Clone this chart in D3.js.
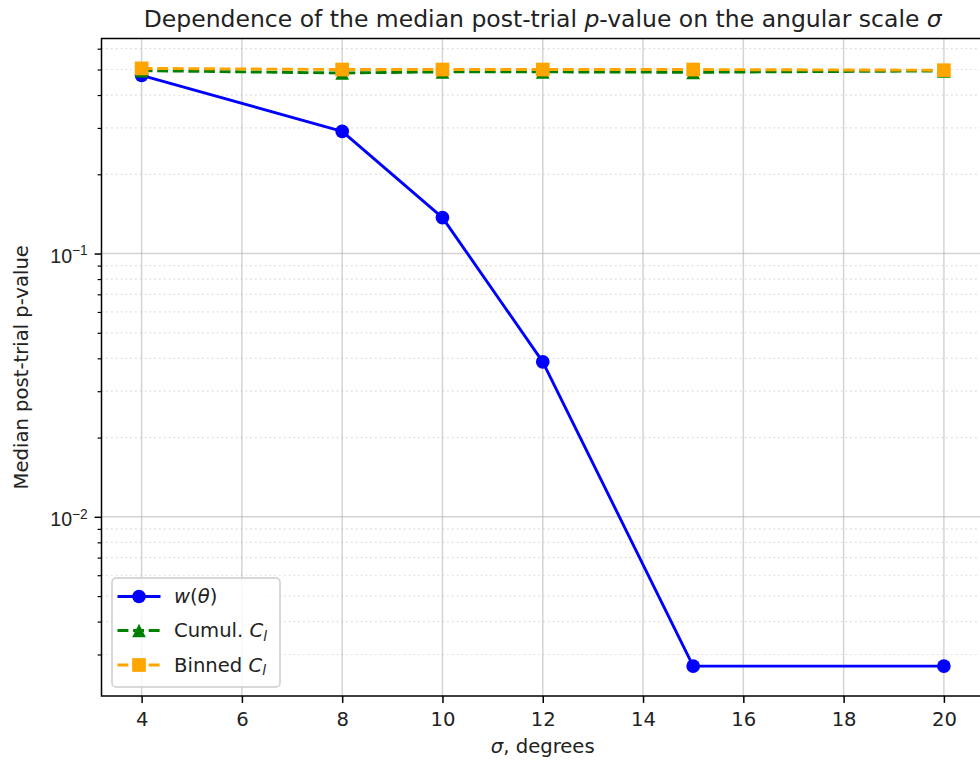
<!DOCTYPE html>
<html><head><meta charset="utf-8">
<script src="https://cdn.jsdelivr.net/npm/d3@7"></script>
<style>
body{margin:0;background:#fff}
svg{display:block;font-family:"DejaVu Sans",sans-serif}
</style>
</head><body><div id="chart"></div>
<script>
// ---- data ----
const sigma = [4, 8, 10, 12, 15, 20];
const wTheta = [0.475, 0.291, 0.137, 0.0388, 0.00271, 0.00271];
const cumulCl = [0.495, 0.485, 0.49, 0.49, 0.488, 0.494];
const binnedCl = [0.505, 0.50, 0.50, 0.50, 0.50, 0.497];
const xTicks = [4, 6, 8, 10, 12, 14, 16, 18, 20];
const yMajorTicks = [0.01, 0.1];
const yMajorLabels = [["10", "−2"], ["10", "−1"]];
const yMinorTicks = [3e-3,4e-3,5e-3,6e-3,7e-3,8e-3,9e-3,2e-2,3e-2,4e-2,5e-2,6e-2,7e-2,8e-2,9e-2,0.2,0.3,0.4,0.5,0.6,0.7,0.8,0.9];

const W = 980, H = 764;
const L = 101.5, R = 984, T = 38.5, B = 696;
const fs = 19.6;

const svg = d3.select("#chart").append("svg").attr("width", W).attr("height", H);

// scales with matplotlib-like 5% margins
const xmin = d3.min(sigma), xmax = d3.max(sigma);
const xpad = (xmax - xmin) * 0.05;
const x = d3.scaleLinear().domain([xmin - xpad, xmax + xpad]).range([L, R]);
const all = wTheta.concat(cumulCl, binnedCl);
const lmin = Math.log10(d3.min(all)), lmax = Math.log10(d3.max(all));
const lpad = (lmax - lmin) * 0.05;
const y = d3.scaleLog().domain([Math.pow(10, lmin - lpad), Math.pow(10, lmax + lpad)]).range([B, T]);

const yMinorVisible = yMinorTicks.filter(v => v >= y.domain()[0] && v <= y.domain()[1]);

// clip
svg.append("defs").append("clipPath").attr("id", "clip")
  .append("rect").attr("x", L).attr("y", T).attr("width", R - L).attr("height", B - T);

// grid
const grid = svg.append("g");
grid.selectAll(".gm").data(yMinorVisible).enter().append("line")
  .attr("x1", L).attr("x2", R).attr("y1", d => y(d)).attr("y2", d => y(d))
  .attr("stroke", "#b0b0b0").attr("stroke-opacity", 0.45).attr("stroke-width", 1.2)
  .attr("stroke-dasharray", "1.6,3.2");
grid.selectAll(".gy").data(yMajorTicks).enter().append("line")
  .attr("x1", L).attr("x2", R).attr("y1", d => y(d)).attr("y2", d => y(d))
  .attr("stroke", "#b0b0b0").attr("stroke-opacity", 0.55).attr("stroke-width", 1.5);
grid.selectAll(".gx").data(xTicks).enter().append("line")
  .attr("x1", d => x(d)).attr("x2", d => x(d)).attr("y1", T).attr("y2", B)
  .attr("stroke", "#b0b0b0").attr("stroke-opacity", 0.55).attr("stroke-width", 1.5);

// series
const plot = svg.append("g").attr("clip-path", "url(#clip)");
const series = [
  {name: "w", vals: wTheta, color: "#0000ff", dash: null, marker: "circle"},
  {name: "cumul", vals: cumulCl, color: "#008000", dash: "10.9,4.7", marker: "triangle"},
  {name: "binned", vals: binnedCl, color: "#ffa500", dash: "10.9,4.7", marker: "square"}
];
const line = d3.line().x(d => x(d[0])).y(d => y(d[1]));
const msz = 13.7;
function drawMarker(g, type, cx, cy, color) {
  if (type === "circle") {
    g.append("circle").attr("cx", cx).attr("cy", cy).attr("r", msz / 2).attr("fill", color);
  } else if (type === "square") {
    g.append("rect").attr("x", cx - msz / 2).attr("y", cy - msz / 2).attr("width", msz).attr("height", msz).attr("fill", color);
  } else {
    const h = msz / 2;
    g.append("path").attr("d", `M${cx},${cy - h}L${cx - h},${cy + h}L${cx + h},${cy + h}Z`).attr("fill", color);
  }
}
series.forEach(s => {
  const pts = sigma.map((v, i) => [v, s.vals[i]]);
  const g = plot.append("g");
  g.append("path").attr("d", line(pts)).attr("fill", "none").attr("stroke", s.color)
    .attr("stroke-width", 2.9).attr("stroke-dasharray", s.dash).attr("stroke-linejoin", "round");
  pts.forEach(p => drawMarker(g, s.marker, x(p[0]), y(p[1]), s.color));
});

// axes
const xAxis = d3.axisBottom(x).tickValues(xTicks).tickSize(6.9).tickPadding(6.9).tickFormat(d3.format("d"));
const gx = svg.append("g").attr("transform", `translate(0,${B})`).call(xAxis);
gx.select(".domain").remove();
gx.selectAll(".tick line").attr("stroke", "#000").attr("stroke-width", 1.5);
gx.selectAll(".tick text").attr("font-size", fs).attr("font-family", "DejaVu Sans").attr("fill", "#222").attr("dy", null).attr("y", 30);

const yMinorAxis = d3.axisLeft(y).tickValues(yMinorVisible).tickSize(3.9).tickFormat("");
const gym = svg.append("g").attr("transform", `translate(${L},0)`).call(yMinorAxis);
gym.select(".domain").remove();
gym.selectAll(".tick line").attr("stroke", "#000").attr("stroke-width", 1.2);

const yAxis = d3.axisLeft(y).tickValues(yMajorTicks).tickSize(6.9).tickFormat("");
const gy = svg.append("g").attr("transform", `translate(${L},0)`).call(yAxis);
gy.select(".domain").remove();
gy.selectAll(".tick line").attr("stroke", "#000").attr("stroke-width", 1.5);
gy.selectAll(".tick").each(function(d, i) {
  const t = d3.select(this).append("text").attr("x", -13.8).attr("y", 8.7)
    .attr("text-anchor", "end").attr("font-size", fs).attr("fill", "#222");
  t.append("tspan").text(yMajorLabels[i][0]);
  t.append("tspan").attr("font-size", fs * 0.7).attr("dy", -7.5).text(yMajorLabels[i][1]);
});

// spines
svg.append("rect").attr("x", L).attr("y", T).attr("width", R - L).attr("height", B - T)
  .attr("fill", "none").attr("stroke", "#000").attr("stroke-width", 1.5);

// title
const title = svg.append("text").attr("x", (L + R) / 2).attr("y", 27).attr("text-anchor", "middle")
  .attr("font-size", 23.5).attr("fill", "#222");
title.append("tspan").text("Dependence of the median post-trial ");
title.append("tspan").attr("font-style", "italic").text("p");
title.append("tspan").text("-value on the angular scale ");
title.append("tspan").attr("font-style", "italic").text("σ");

// axis labels
const xl = svg.append("text").attr("x", (L + R) / 2).attr("y", 753).attr("text-anchor", "middle")
  .attr("font-size", fs).attr("fill", "#222");
xl.append("tspan").attr("font-style", "italic").text("σ");
xl.append("tspan").text(", degrees");

svg.append("text").attr("transform", `translate(27.5,${(T + B) / 2}) rotate(-90)`)
  .attr("text-anchor", "middle").attr("font-size", fs).attr("fill", "#222")
  .text("Median post-trial p-value");

// legend
const lg = svg.append("g");
lg.append("rect").attr("x", 112).attr("y", 578).attr("width", 168).attr("height", 109)
  .attr("rx", 4).attr("fill", "#fff").attr("fill-opacity", 0.8).attr("stroke", "#cccccc").attr("stroke-width", 1.5);
const rows = [596.5, 630.5, 665];
series.forEach((s, i) => {
  const cy = rows[i];
  lg.append("line").attr("x1", 117.5).attr("x2", 160.5).attr("y1", cy).attr("y2", cy)
    .attr("stroke", s.color).attr("stroke-width", 2.9).attr("stroke-dasharray", s.dash);
  drawMarker(lg, s.marker, 139, cy, s.color);
  const t = lg.append("text").attr("x", 174).attr("y", cy + 6.8).attr("font-size", fs).attr("fill", "#222");
  if (i === 0) {
    t.append("tspan").attr("font-style", "italic").text("w");
    t.append("tspan").text("(");
    t.append("tspan").attr("font-style", "italic").text("θ");
    t.append("tspan").text(")");
  } else {
    t.append("tspan").text(i === 1 ? "Cumul. " : "Binned ");
    t.append("tspan").attr("font-style", "italic").text("C");
    t.append("tspan").attr("font-style", "italic").attr("font-size", fs * 0.7).attr("dy", 3.5).text("l");
  }
});
</script>
</body></html>
